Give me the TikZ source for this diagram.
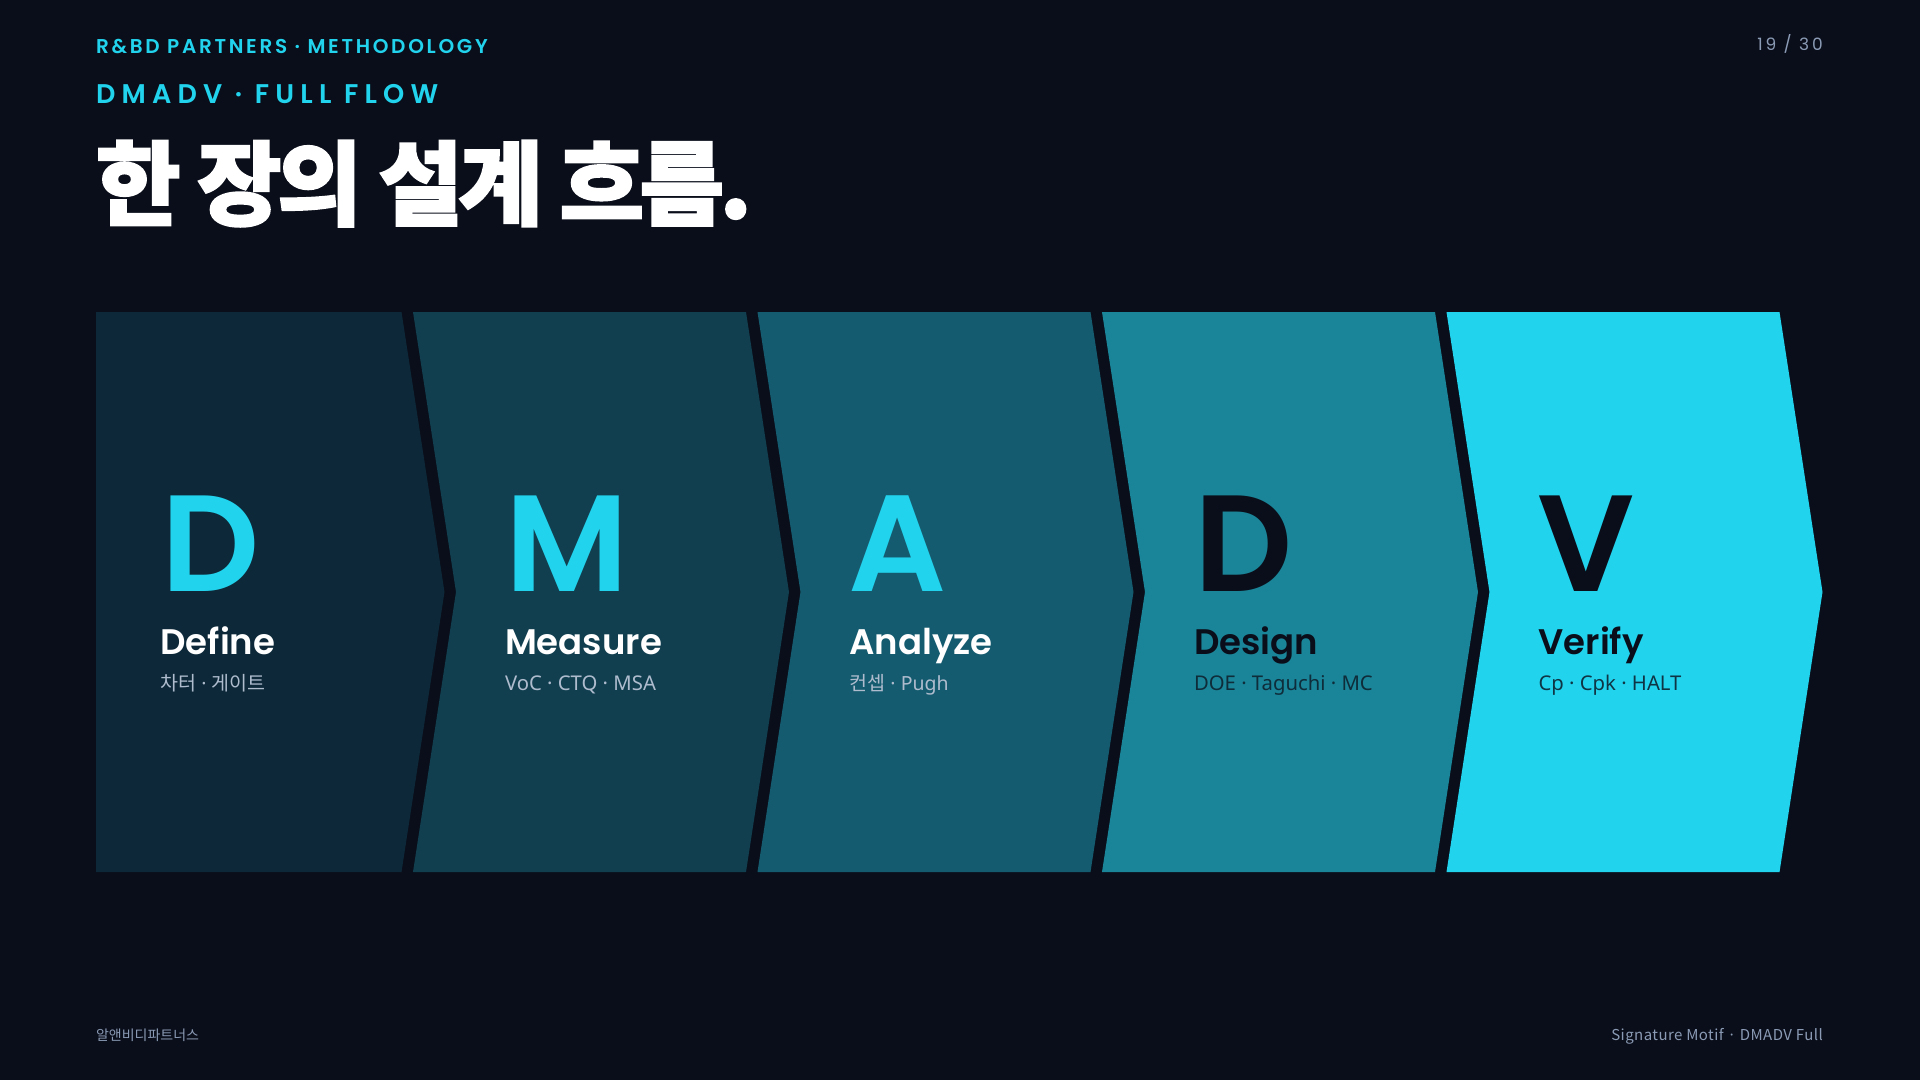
\documentclass[tikz,border=0pt]{standalone}
\usepackage{fontspec}
\setmainfont{Poppins}
\newfontfamily\popb{Poppins}[UprightFont={* SemiBold}]
\newfontfamily\popr{Poppins}
\newfontfamily\cjk{Noto Sans CJK KR}
\newfontfamily\lat{Noto Sans}
\newcommand{\md}{{\lat\space·\space}}
\definecolor{bg}{HTML}{0A0E1A}
\definecolor{cyanx}{HTML}{22D3EE}
\definecolor{cA}{HTML}{0D2939}
\definecolor{cB}{HTML}{113F4F}
\definecolor{cC}{HTML}{155B6F}
\definecolor{cD}{HTML}{1A8598}
\definecolor{cE}{HTML}{22D3EE}
\definecolor{subl}{HTML}{AEBCCE}
\definecolor{muted}{HTML}{8B9BB5}
\tikzset{
  txt/.style={inner sep=0pt, outer sep=0pt, anchor=base west},
  bigletter/.style={txt, font=\popb\fontsize{137}{137}\selectfont},
  phasename/.style={txt, font=\popb\fontsize{35.5}{36}\selectfont},
  phasesub/.style={txt, font=\cjk\fontsize{19.5}{20}\selectfont},
  phasesublat/.style={txt, font=\lat\fontsize{20.3}{21}\selectfont},
}
\begin{document}
\begin{tikzpicture}[x=1pt,y=-1pt]
\fill[bg] (0,0) rectangle (1920,1080);
\useasboundingbox (0,0) rectangle (1920,1080);
% header
\node[txt, text=cyanx, font=\popb\fontsize{20}{20}\selectfont\addfontfeature{LetterSpace=13.5}] (kicker) at (96,53) {R\&BD PARTNERS · METHODOLOGY};
\node[txt, text=cyanx, font=\popb\fontsize{27}{27}\selectfont\addfontfeature{LetterSpace=23}] (sub) at (96,103) {DMADV · FULL FLOW};
\node[txt, text=white, font=\cjk\bfseries\fontsize{92}{92}\selectfont\addfontfeature{FakeBold=2,LetterSpace=-5}] (title) at (96,218) {한 장의 설계 흐름.};
\node[inner sep=0pt, anchor=base east, text=muted, font=\popr\fontsize{17}{17}\selectfont\addfontfeature{LetterSpace=17}] (page) at (1823,50) {19 / 30};
% chevrons
\fill[cA] (96,312) -- (401.5,312) -- (444.5,592) -- (401.5,872) -- (96,872) -- cycle;
\foreach \i/\col in {1/cB,2/cC,3/cD,4/cE}{
  \pgfmathsetmacro\tl{68.5+344.5*\i}
  \pgfmathsetmacro\tr{\tl+333}
  \fill[\col] (\tl,312) -- (\tr,312) -- (\tr+43,592) -- (\tr,872) -- (\tl,872) -- (\tl+43,592) -- cycle;
}
% phase texts
\node[bigletter, text=cyanx] (l1) at (161,591) {D};
\node[phasename, text=white] (n1) at (160.5,654) {Define};
\node[phasesub, text=subl] (s1) at (160.5,690) {차터\md 게이트};

\node[bigletter, text=cyanx] (l2) at (505.5,591) {M};
\node[phasename, text=white] (n2) at (505,654) {Measure};
\node[phasesublat, text=subl] (s2) at (505,690) {VoC · CTQ · MSA};

\node[bigletter, text=cyanx] (l3) at (848,591) {A};
\node[phasename, text=white] (n3) at (849.5,654) {Analyze};
\node[phasesub, text=subl] (s3) at (849.5,690) {컨셉\md {\lat Pugh}};

\node[bigletter, text=bg] (l4) at (1194.5,591) {D};
\node[phasename, text=bg] (n4) at (1194,654) {Design};
\node[phasesublat, text=bg!75!cD] (s4) at (1194,690) {DOE · Taguchi · MC};

\node[bigletter, text=bg] (l5) at (1537,591) {V};
\node[phasename, text=bg] (n5) at (1538.5,654) {Verify};
\node[phasesublat, text=bg!80!cE] (s5) at (1538.5,690) {Cp · Cpk · HALT};
% footer
\node[txt, text=muted, font=\cjk\fontsize{14}{14}\selectfont] (fl) at (96,1040) {알앤비디파트너스};
\node[inner sep=0pt, anchor=base east, text=muted, font=\cjk\fontsize{15}{15}\selectfont\addfontfeature{LetterSpace=3}] (fr) at (1823,1040) {Signature Motif · DMADV Full};
\end{tikzpicture}
\end{document}
